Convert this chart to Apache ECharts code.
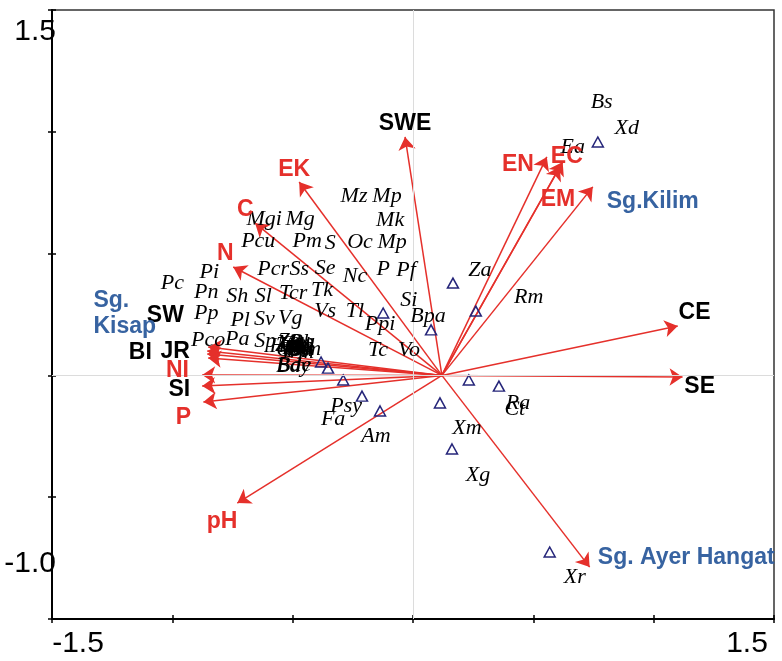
<!DOCTYPE html>
<html><head><meta charset="utf-8">
<script src="https://cdn.jsdelivr.net/npm/echarts@6/dist/echarts.min.js"></script>
<style>html,body{margin:0;padding:0;background:#fff}#c{width:782px;height:661px}</style>
</head><body><div id="c"></div>
<script>
// ---- data ----
const xTickLabels = ['-1.5', '1.5'];
const yTickLabels = ['1.5', '-1.0'];

// environmental / station arrows (origin and tips)
const arrowOrigin = [0.12, 0.0];
const arrowNames = ['SWE','EK','C','N','SW','Sg. Kisap','BI','JR','NI','SI','P','pH','Sg. Ayer Hangat','SE','CE','Sg.Kilim','EC','EM','EN'];
const arrowX = [-0.033,-0.473,-0.656,-0.747,-0.851,-0.855,-0.855,-0.851,-0.876,-0.876,-0.871,-0.730,0.734,1.120,1.100,0.747,0.622,0.610,0.556];
const arrowY = [0.979,0.794,0.625,0.445,0.117,0.100,0.088,0.071,0.002,-0.044,-0.109,-0.524,-0.787,-0.007,0.203,0.774,0.876,0.856,0.897];

// arrow labels
const envLabels = ['SWE','EK','C','N','SW','Sg.\nKisap','BI','JR','NI','SI','P','pH','Sg. Ayer Hangat','SE','CE','Sg.Kilim','EC','EM','EN'];
const envLabelX = [-0.033,-0.494,-0.697,-0.780,-1.029,-1.328,-1.133,-0.988,-0.979,-0.971,-0.954,-0.793,0.768,1.191,1.170,0.805,0.639,0.602,0.436];
const envLabelY = [1.032,0.843,0.679,0.498,0.244,0.252,0.092,0.096,0.018,-0.060,-0.175,-0.602,-0.750,-0.048,0.256,0.712,0.897,0.720,0.864];
const envLabelKind = ['stress','env','env','env','stress','station','stress','stress','env','stress','env','env','station','stress','stress','station','env','env','env'];

// species scores
const speciesNames = ['Bs','Xd','Ea','Mz','Mp','Mgi','Mg','Mk','Pcu','Pm','S','Oc','Mp','Pcr','Ss','Se','Nc','P','Pf','Za','Pi','Pc','Pn','Sh','Sl','Tcr','Tk','Si','Rm','Vs','Tl','Pl','Sv','Vg','Ppi','Bpa','Pp','Pco','Pa','Sp',
  'Zeu','Zm','Cm','Hp','Tb','Ma','Sd','Cs','Bb','Pt','Mh','Ga','Dm','Hm','Wm','Tc','Vo','Bdy','Bde','Psy','Fa','Am','Ra','Ct','Xm','Xg','Xr'];
const speciesX = [0.784,0.888,0.664,-0.245,-0.108,-0.618,-0.469,-0.095,-0.643,-0.440,-0.344,-0.220,-0.087,-0.581,-0.473,-0.365,-0.241,-0.124,-0.029,0.278,-0.846,-1.000,-0.859,-0.730,-0.622,-0.498,-0.378,-0.017,0.481,-0.365,-0.241,-0.718,-0.618,-0.510,-0.137,0.062,-0.859,-0.851,-0.730,-0.614,
  -0.494,-0.515,-0.490,-0.468,-0.502,-0.478,-0.456,-0.520,-0.462,-0.485,-0.505,-0.470,-0.448,-0.530,-0.482,-0.145,-0.017,-0.498,-0.494,-0.278,-0.332,-0.154,0.436,0.423,0.224,0.270,0.672];
const speciesY = [1.122,1.016,0.938,0.737,0.737,0.642,0.642,0.638,0.552,0.552,0.543,0.548,0.548,0.437,0.437,0.441,0.408,0.437,0.433,0.433,0.425,0.379,0.342,0.326,0.326,0.338,0.351,0.310,0.322,0.264,0.264,0.227,0.232,0.236,0.211,0.244,0.256,0.146,0.149,0.141,
  0.140,0.125,0.128,0.118,0.110,0.112,0.120,0.105,0.135,0.100,0.132,0.104,0.108,0.118,0.095,0.104,0.104,0.039,0.043,-0.126,-0.179,-0.248,-0.113,-0.138,-0.216,-0.409,-0.827];

// site scores
const siteX = [0.768,0.166,0.261,0.075,-0.124,-0.382,-0.353,-0.290,-0.212,-0.137,0.112,0.232,0.357,0.162,0.568];
const siteY = [0.958,0.379,0.264,0.187,0.256,0.055,0.030,-0.019,-0.085,-0.146,-0.113,-0.019,-0.044,-0.302,-0.725];

// ---- styles ----
const RED = '#e5302b', BLUE = '#3763a1', NAVY = '#26267a';
const kindColor = {env: RED, stress: '#000', station: BLUE};

const chart = echarts.init(document.getElementById('c'));
const baseAxisLine = {onZero:false, lineStyle:{color:'#000', width:2}};

chart.setOption({
  animation:false,
  backgroundColor:'#fff',
  grid:{left:52, right:8, top:10, bottom:42, show:true, borderColor:'#333', borderWidth:1.5, backgroundColor:'transparent'},
  xAxis:[{
    type:'value', min:-1.5, max:1.5, interval:0.5, position:'bottom',
    splitLine:{show:false}, axisLine:baseAxisLine,
    axisTick:{show:true, length:4, lineStyle:{color:'#000', width:1.5}},
    axisLabel:{
      margin:10, color:'#000', fontFamily:'Liberation Sans', fontSize:30,
      formatter:function(v){
        if (Math.abs(v + 1.5) < 1e-9) return '{mn|' + xTickLabels[0] + '}';
        if (Math.abs(v - 1.5) < 1e-9) return '{mx|' + xTickLabels[1] + '}';
        return '';
      },
      rich:{
        mn:{fontSize:30, fontFamily:'Liberation Sans', color:'#000', padding:[0,0,0,52]},
        mx:{fontSize:30, fontFamily:'Liberation Sans', color:'#000', padding:[0,54,0,0]}
      }
    }
  },{
    type:'value', min:-1.5, max:1.5, interval:0.5, position:'bottom',
    splitLine:{show:false}, axisLine:{show:false, onZero:false},
    axisTick:{show:true, inside:true, length:4, lineStyle:{color:'#000', width:1.5}},
    axisLabel:{show:false}
  }],
  yAxis:[{
    type:'value', min:-1.0, max:1.5, interval:0.5, position:'left',
    splitLine:{show:false}, axisLine:baseAxisLine,
    axisTick:{show:true, length:4, lineStyle:{color:'#000', width:1.5}},
    axisLabel:{
      margin:-4, color:'#000', fontFamily:'Liberation Sans', fontSize:30,
      formatter:function(v){
        if (Math.abs(v - 1.5) < 1e-9) return '{mx|' + yTickLabels[0] + '}';
        if (Math.abs(v + 1.0) < 1e-9) return '{mn|' + yTickLabels[1] + '}';
        return '';
      },
      rich:{
        mx:{fontSize:30, fontFamily:'Liberation Sans', color:'#000', padding:[44,0,0,0]},
        mn:{fontSize:30, fontFamily:'Liberation Sans', color:'#000', padding:[0,0,110,0]}
      }
    }
  },{
    type:'value', min:-1.0, max:1.5, interval:0.5, position:'left',
    splitLine:{show:false}, axisLine:{show:false, onZero:false},
    axisTick:{show:true, inside:true, length:4, lineStyle:{color:'#000', width:1.5}},
    axisLabel:{show:false}
  }],
  series:[
    {
      type:'scatter', data:[], z:1, silent:true,
      markLine:{silent:true, symbol:['none','none'], label:{show:false},
        lineStyle:{color:'#dcdcdc', width:1, type:'solid'},
        data:[{xAxis:0},{yAxis:0}]}
    },
    {
      type:'lines', coordinateSystem:'cartesian2d', z:3, silent:true,
      symbol:['none','arrow'], symbolSize:[0,13],
      lineStyle:{color:RED, width:1.5, opacity:1},
      data: arrowX.map(function(x,i){ return {name:arrowNames[i], coords:[arrowOrigin.slice(), [x, arrowY[i]]]}; })
    },
    {
      type:'scatter', z:4, silent:true,
      symbol:'triangle', symbolSize:[11,10],
      itemStyle:{color:'rgba(255,255,255,0)', borderColor:NAVY, borderWidth:1.5, opacity:1},
      data: siteX.map(function(x,i){ return [x, siteY[i]]; })
    },
    {
      type:'scatter', z:5, silent:true, symbolSize:1,
      itemStyle:{color:'rgba(0,0,0,0)', opacity:1},
      label:{show:true, position:'inside', formatter:'{b}', color:'#000',
        fontFamily:'Liberation Serif', fontStyle:'italic', fontSize:22},
      data: speciesNames.map(function(n,i){ return {name:n, value:[speciesX[i], speciesY[i]]}; })
    },
    {
      type:'scatter', z:6, silent:true, symbolSize:1,
      itemStyle:{color:'rgba(0,0,0,0)', opacity:1},
      data: envLabels.map(function(n,i){
        const k = envLabelKind[i];
        return {name:n, value:[envLabelX[i], envLabelY[i]],
          label:{show:true, position:'inside', formatter:'{b}', color:kindColor[k],
            fontFamily:'Liberation Sans', fontWeight:'bold', fontSize:23, lineHeight:26,
            align: k === 'station' ? 'left' : 'center'}};
      })
    }
  ]
});
</script></body></html>
